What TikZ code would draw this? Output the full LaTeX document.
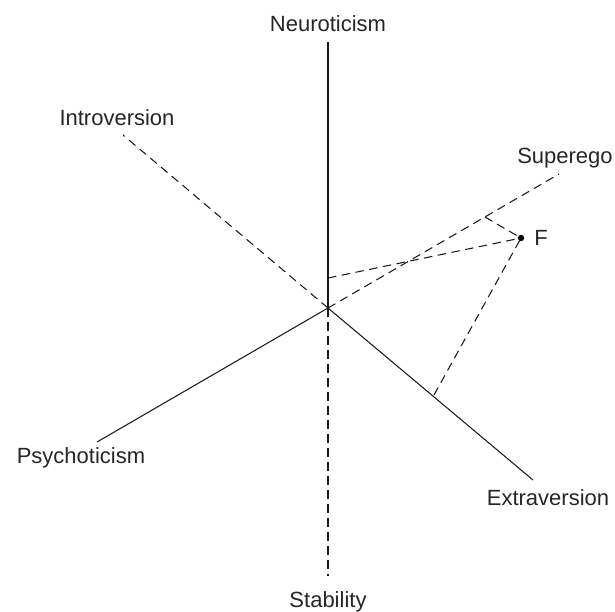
\documentclass[tikz,border=0pt]{standalone}
\usepackage{fontspec}
\setmainfont{Liberation Sans}
\begin{document}
\begin{tikzpicture}[x=1pt,y=-1pt,
  axis/.style={line width=1.05pt, black!90},
  dashaxis/.style={line width=1.05pt, black!90, dash pattern=on 8.5pt off 5.5pt},
  lbl/.style={inner sep=0pt, anchor=base, font=\fontsize{22}{26}\selectfont, text=black!85}]
\useasboundingbox (0,0) rectangle (615,611);
\coordinate (O) at (328,308);
\coordinate (N) at (328,42);
\coordinate (S) at (328,576);
\coordinate (I) at (123,135);
\coordinate (E) at (533,480);
\coordinate (P) at (97,442);
\coordinate (SE) at (559,174);
\coordinate (F) at (521,238);
\coordinate (fN) at (328,278);
\coordinate (fS) at (485,217);
\coordinate (fE) at (434,395);
% axes
\draw[axis] (O) -- (N);
\draw[axis] (O) -- (E);
\draw[axis] (O) -- (P);
\draw[dashaxis] (O) -- (S);
\draw[dashaxis] (O) -- (I);
\draw[dashaxis] (O) -- (SE);
% projections
\draw[dashaxis] (fN) -- (F);
\draw[dashaxis] (fS) -- (F);
\draw[dashaxis] (fE) -- (F);
\fill (F) circle (3.2pt);
% labels
\node[lbl] (lN) at (328,31) {Neuroticism};
\node[lbl] (lI) at (117,125) {Introversion};
\node[lbl] (lSE) at (565,163) {Superego};
\node[lbl] (lF) at (541,245) {F};
\node[lbl] (lE) at (548,505) {Extraversion};
\node[lbl] (lP) at (81,463) {Psychoticism};
\node[lbl] (lS) at (328,607) {Stability};
\end{tikzpicture}
\end{document}
